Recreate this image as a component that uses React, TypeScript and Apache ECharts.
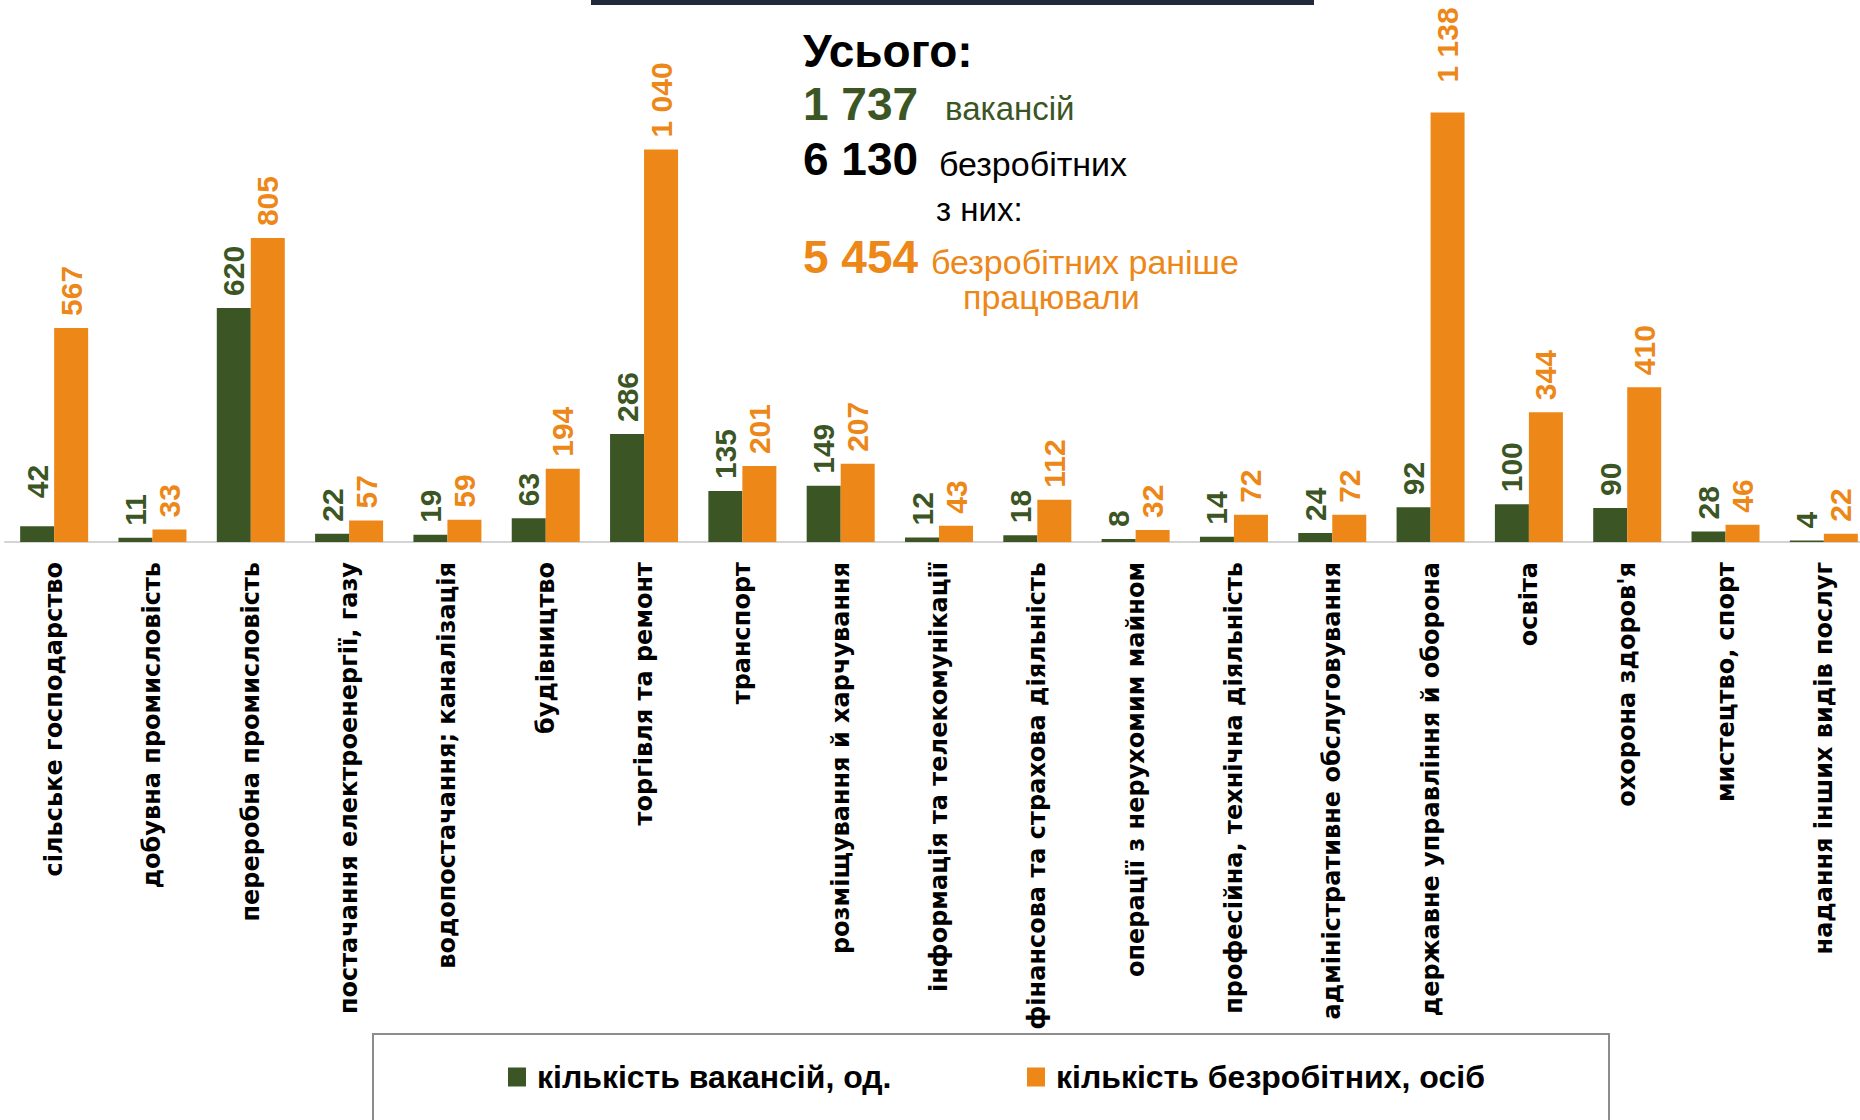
import React, { useEffect, useRef } from "react";
import * as echarts from "echarts";

const categories = [
  "сільське господарство",
  "добувна промисловість",
  "переробна промисловість",
  "постачання електроенергії, газу",
  "водопостачання; каналізація",
  "будівництво",
  "торгівля та ремонт",
  "транспорт",
  "розміщування й харчування",
  "інформація та телекомунікації",
  "фінансова та страхова діяльність",
  "операції з нерухомим майном",
  "професійна, технічна діяльність",
  "адміністративне обслуговування",
  "державне управління й оборона",
  "освіта",
  "охорона здоров'я",
  "мистецтво, спорт",
  "надання інших видів послуг",
];

const vacancies = [42, 11, 620, 22, 19, 63, 286, 135, 149, 12, 18, 8, 14, 24, 92, 100, 90, 28, 4];
const unemployed = [567, 33, 805, 57, 59, 194, 1040, 201, 207, 43, 112, 32, 72, 72, 1138, 344, 410, 46, 22];

const seriesNames = ["кількість вакансій, од.", "кількість безробітних, осіб"];

const GREEN = "#3b5624";
const ORANGE = "#ec8718";

const fmt = (v: number) => String(v).replace(/\B(?=(\d{3})+(?!\d))/g, " ");

export default function App() {
  const ref = useRef<HTMLDivElement>(null);
  useEffect(() => {
    if (!ref.current) return;
    const chart = echarts.init(ref.current, null, { renderer: "svg" });
    const labelBase = {
      show: true,
      position: "top",
      rotate: 90,
      align: "left",
      verticalAlign: "middle",
      distance: 12,
      fontFamily: "Liberation Sans",
      fontWeight: "bold",
      fontSize: 30,
      formatter: (p: any) => fmt(p.value),
    };
    const greenData = vacancies.map((v, i) =>
      i === 0 ? { value: v, label: { distance: 28 } } : v
    );
    const orangeData = unemployed.map((v, i) =>
      i === 14 ? { value: v, label: { distance: 30 } } : v
    );
    const headerFont = "Liberation Sans";
    const t = (text: string, x: number, y: number, size: number, color: string, bold: boolean) => ({
      type: "text",
      x,
      y,
      style: {
        text,
        fill: color,
        fontFamily: headerFont,
        fontSize: size,
        lineHeight: Math.round(size * 0.85),
        fontWeight: bold ? "bold" : "normal",
        textVerticalAlign: "middle",
        verticalAlign: "middle",
      },
    });
    const legendText = {
      fontFamily: "Liberation Sans",
      fontWeight: "bold",
      fontSize: 32,
      color: "#000",
      padding: [0, 0, 0, 6],
    };
    chart.setOption({
      animation: false,
      backgroundColor: "#ffffff",
      grid: {
        left: 5,
        top: 13.5,
        width: 1868,
        bottom: 578,
        containLabel: false,
        outerBoundsMode: "none",
      },
      xAxis: {
        type: "category",
        data: categories,
        axisLine: { show: true, lineStyle: { color: "#d4d4d4", width: 2 } },
        axisTick: { show: false },
        axisLabel: {
          interval: 0,
          rotate: 90,
          margin: 20,
          color: "#000000",
          fontFamily: "DejaVu Sans",
          fontWeight: "bold",
          fontSize: 24,
        },
      },
      yAxis: {
        type: "value",
        min: 0,
        max: 1400,
        show: false,
        splitLine: { show: false },
      },
      legend: [
        {
          data: [seriesNames[0]],
          left: 508,
          top: 1061,
          padding: 0,
          itemWidth: 18,
          itemHeight: 19,
          icon: "rect",
          textStyle: legendText,
        },
        {
          data: [seriesNames[1]],
          left: 1027,
          top: 1061,
          padding: 0,
          itemWidth: 18,
          itemHeight: 19,
          icon: "rect",
          textStyle: legendText,
        },
      ],
      graphic: [
        {
          type: "rect",
          z: -1,
          shape: { x: 373, y: 1034, width: 1236, height: 120 },
          style: { fill: "#ffffff", stroke: "#8c8c8c", lineWidth: 2 },
        },
        {
          type: "rect",
          shape: { x: 591, y: 0, width: 723, height: 5 },
          style: { fill: "#1f2a3a" },
        },
        t("Усього:", 803, 51, 46, "#000000", true),
        t("1 737", 803, 104, 46, GREEN, true),
        t("вакансій", 945, 108.5, 33, GREEN, false),
        t("6 130", 803, 159, 46, "#000000", true),
        t("безробітних", 939, 163.5, 34, "#000000", false),
        t("з них:", 936, 209.5, 33, "#000000", false),
        t("5 454", 803, 257, 46, ORANGE, true),
        t("безробітних раніше", 931, 261.5, 34, ORANGE, false),
        t("працювали", 963, 296.5, 34, ORANGE, false),
      ],
      series: [
        {
          name: seriesNames[0],
          type: "bar",
          data: greenData,
          barWidth: 34,
          barGap: "0%",
          itemStyle: { color: GREEN },
          label: { ...labelBase, color: GREEN },
        },
        {
          name: seriesNames[1],
          type: "bar",
          data: orangeData,
          barWidth: 34,
          barGap: "0%",
          itemStyle: { color: ORANGE },
          label: { ...labelBase, color: ORANGE },
        },
      ],
    });
    return () => chart.dispose();
  }, []);
  return (
    <div
      ref={ref}
      style={{ position: "fixed", left: 0, top: 0, width: 1860, height: 1120 }}
    />
  );
}
